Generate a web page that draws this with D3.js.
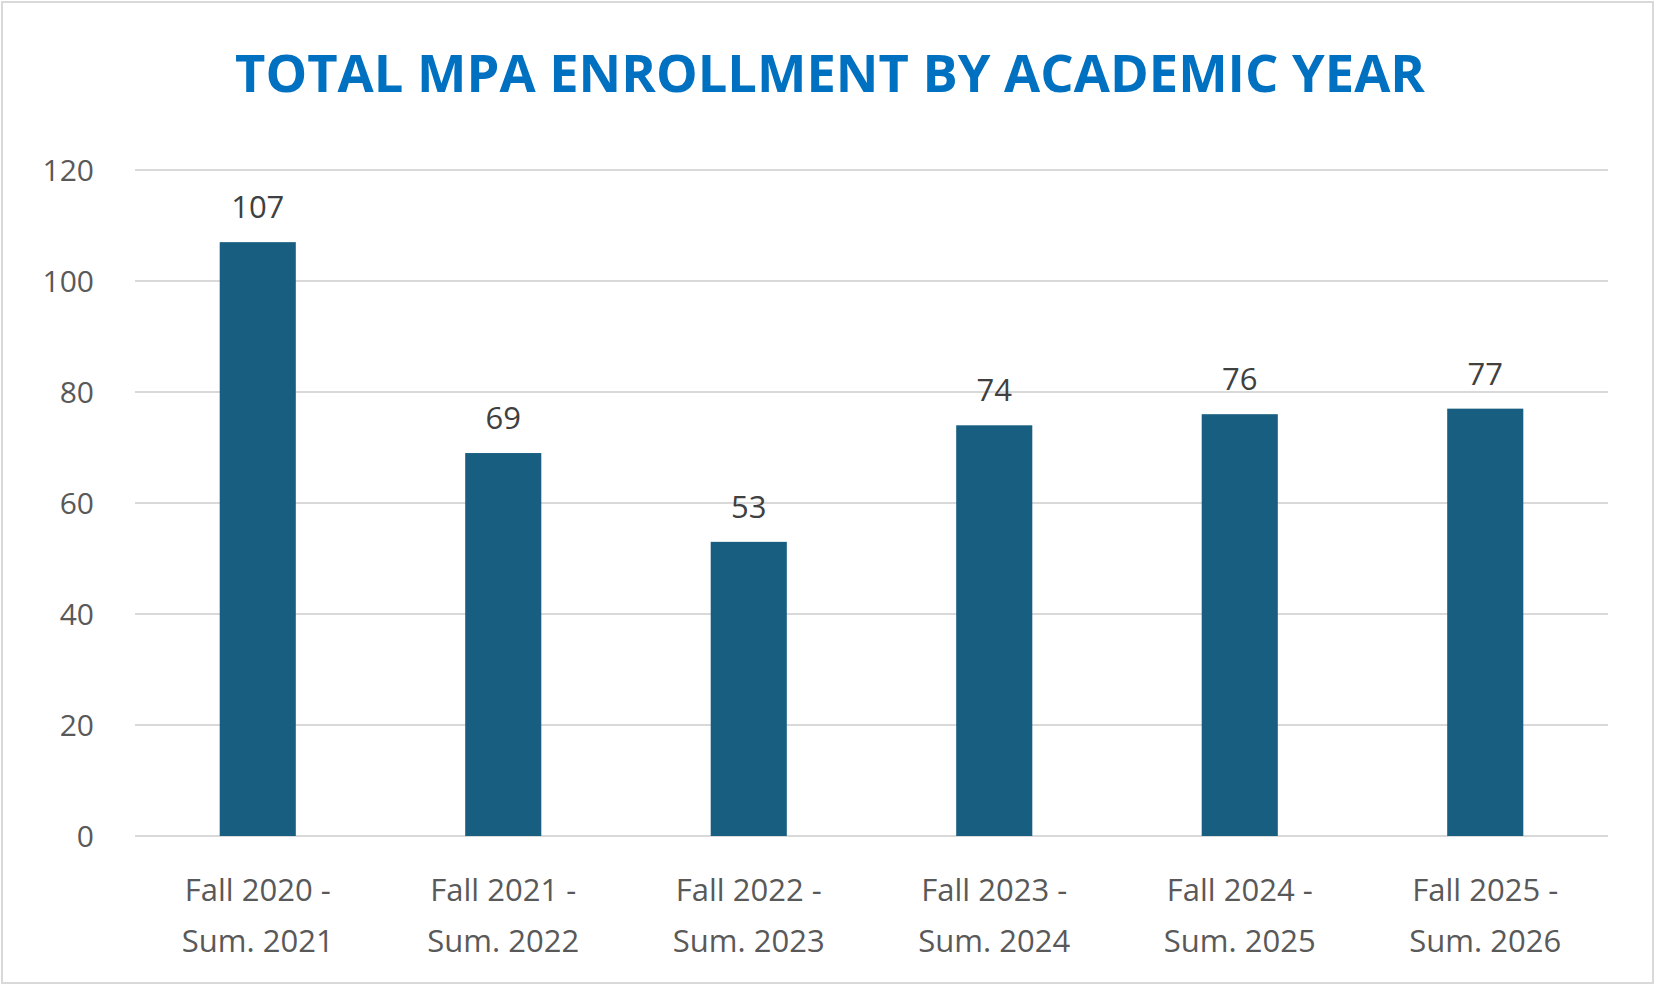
<!DOCTYPE html>
<html>
<head>
<meta charset="utf-8">
<script src="https://cdn.jsdelivr.net/npm/d3@7"></script>
<style>
  body { margin: 0; background: #fff; }
  text { font-family: "Open Sans", "Noto Sans", sans-serif; }
</style>
</head>
<body>
<script>
var categories = [
  ["Fall 2020 -", "Sum. 2021"],
  ["Fall 2021 -", "Sum. 2022"],
  ["Fall 2022 -", "Sum. 2023"],
  ["Fall 2023 -", "Sum. 2024"],
  ["Fall 2024 -", "Sum. 2025"],
  ["Fall 2025 -", "Sum. 2026"]
];
var enrollment = [107, 69, 53, 74, 76, 77];
var yTicks = [0, 20, 40, 60, 80, 100, 120];

var width = 1663, height = 999;
var margin = {top: 170, right: 55, bottom: 163, left: 135};

var svg = d3.select("body").append("svg")
    .attr("width", width)
    .attr("height", height);

svg.append("rect")
    .attr("x", 2).attr("y", 2)
    .attr("width", 1651).attr("height", 981)
    .attr("fill", "#fff")
    .attr("stroke", "#d9d9d9")
    .attr("stroke-width", 2);

svg.append("text")
    .attr("x", 830).attr("y", 92)
    .attr("text-anchor", "middle")
    .attr("font-family", "Roboto, sans-serif")
    .attr("font-weight", "bold")
    .attr("font-size", 52)
    .attr("textLength", 1190)
    .attr("lengthAdjust", "spacingAndGlyphs")
    .attr("fill", "#0070c0")
    .text("TOTAL MPA ENROLLMENT BY ACADEMIC YEAR");

var x = d3.scaleBand()
    .domain(d3.range(categories.length))
    .range([margin.left, width - margin.right])
    .paddingInner(0.69)
    .paddingOuter(0.345);

var y = d3.scaleLinear()
    .domain([0, 120])
    .range([height - margin.bottom, margin.top]);

var g = svg.append("g");

g.selectAll("line.grid")
    .data(yTicks)
    .enter().append("line")
    .attr("x1", margin.left).attr("x2", width - margin.right)
    .attr("y1", function(d) { return y(d); })
    .attr("y2", function(d) { return y(d); })
    .attr("stroke", "#d9d9d9")
    .attr("stroke-width", 2);

g.selectAll("text.ytick")
    .data(yTicks)
    .enter().append("text")
    .attr("x", 94)
    .attr("y", function(d) { return y(d); })
    .attr("dy", "0.36em")
    .attr("text-anchor", "end")
    .attr("font-size", 30)
    .attr("fill", "#595959")
    .text(function(d) { return d; });

g.selectAll("rect.bar")
    .data(enrollment)
    .enter().append("rect")
    .attr("x", function(d, i) { return x(i); })
    .attr("y", function(d) { return y(d); })
    .attr("width", x.bandwidth())
    .attr("height", function(d) { return y(0) - y(d); })
    .attr("fill", "#175e80");

g.selectAll("text.val")
    .data(enrollment)
    .enter().append("text")
    .attr("x", function(d, i) { return x(i) + x.bandwidth() / 2; })
    .attr("y", function(d) { return y(d) - 24; })
    .attr("text-anchor", "middle")
    .attr("font-size", 31)
    .attr("fill", "#404040")
    .text(function(d) { return d; });

categories.forEach(function(c, i) {
  var t = g.append("text")
      .attr("text-anchor", "middle")
      .attr("font-size", 31)
      .attr("fill", "#595959");
  c.forEach(function(line, j) {
    t.append("tspan")
      .attr("x", x(i) + x.bandwidth() / 2)
      .attr("y", 901 + j * 51)
      .text(line);
  });
});
</script>
</body>
</html>
